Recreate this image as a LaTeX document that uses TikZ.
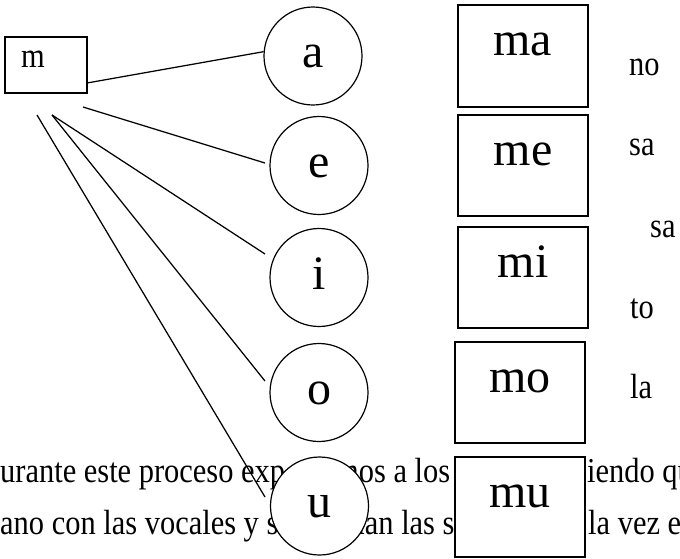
\documentclass[tikz,border=0pt]{standalone}
\usepackage{fontspec}
\setmainfont{Liberation Serif}
\newfontfamily\condfont[FakeStretch=0.87]{Liberation Serif}
\begin{document}
\begin{tikzpicture}[x=1pt,y=-1pt,
  small/.style={font=\condfont\fontsize{35}{35}\selectfont, inner sep=0pt, anchor=base west},
  vowel/.style={circle, draw, line width=1.2pt, fill=white, minimum size=98pt, inner sep=0pt,
    font=\fontsize{48}{48}\selectfont, text height=23pt, text depth=0pt},
  syl/.style={rectangle, draw, line width=1.8pt, fill=white, minimum width=130pt, inner sep=0pt,
    font=\fontsize{48}{48}\selectfont, text height=50.5pt},
  conn/.style={line width=1.25pt}]
\useasboundingbox (0,0) rectangle (680,558);
\clip (0,0) rectangle (680,558);
% paragraph text behind the shapes
\node[small] (t1) at (0,482) {urante este proceso exp};
\node[small] (t2) at (335,482) {mos a los};
\node[small] (t3) at (587,482) {iendo qu};
\node[small] (t4) at (0,534) {ano con las vocales y s};
\node[small] (t5) at (341,534) {man las s};
\node[small] (t6) at (588,534) {la vez e};
% consonant box
\node[draw, line width=1.7pt, minimum width=82pt, inner sep=0pt, text width=50pt, align=left,
  text height=30pt, text depth=26pt, font=\condfont\fontsize{35}{35}\selectfont] (m) at (46,65) {m};
% vowels
\node[vowel] (a) at (313,56) {a};
\node[vowel] (e) at (319,165.5) {e};
\node[vowel] (i) at (319,277.5) {i};
\node[vowel] (o) at (319,392.5) {o};
\node[vowel] (u) at (319.5,506) {u};
% syllables
\node[syl, text depth=51.5pt] (ma) at (522.75,56) {ma};
\node[syl, text depth=50.5pt] (me) at (523,165.5) {me};
\node[syl, text depth=50.5pt] (mi) at (523,277.5) {mi};
\node[syl, text depth=50.5pt] (mo) at (520,392.5) {mo};
\node[syl, text depth=49.5pt] (mu) at (520,507) {mu};
% second syllables
\node[small] (no) at (629,75) {no};
\node[small] (sa1) at (629,155) {sa};
\node[small] (sa2) at (650,237) {sa};
\node[small] (to) at (630,318) {to};
\node[small] (la) at (630,398) {la};
% connector ends
\coordinate (sa) at (87,83);
\coordinate (se) at (83,107);
\coordinate (si) at (52,115);
\coordinate (so) at (52,115);
\coordinate (su) at (37,115);
\coordinate (ee) at (265,163);
\coordinate (ei) at (265,254);
\coordinate (eo) at (265,381);
\coordinate (eu) at (265,497);
\draw[conn] (sa) -- (a.175);
\draw[conn] (se) -- (ee);
\draw[conn] (si) -- (ei);
\draw[conn] (so) -- (eo);
\draw[conn] (su) -- (eu);
\end{tikzpicture}
\end{document}
